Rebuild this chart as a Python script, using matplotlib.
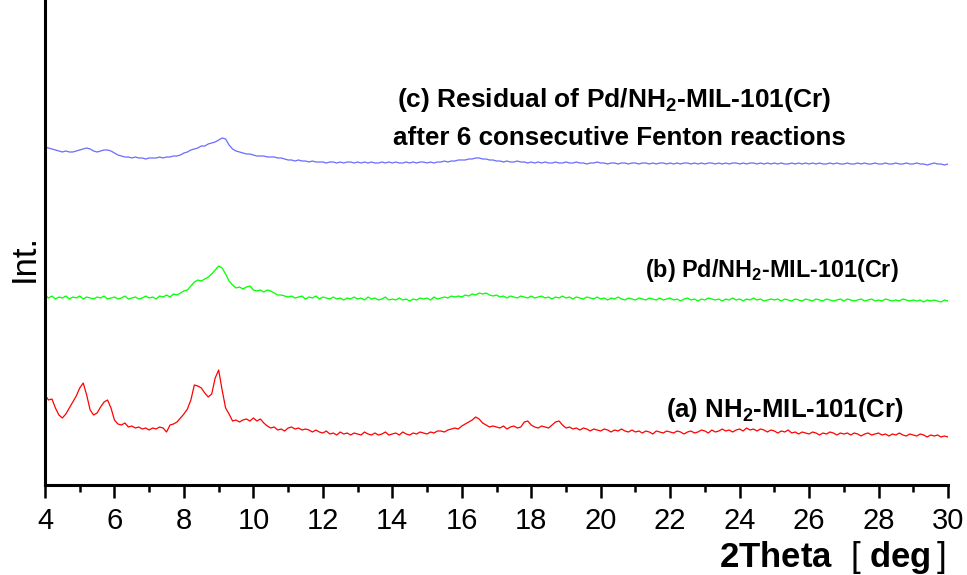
import numpy as np
import matplotlib
matplotlib.use("Agg")
import matplotlib.pyplot as plt
from matplotlib.ticker import MultipleLocator

plt.rcParams['font.family'] = ['Liberation Sans', 'Noto Sans CJK SC', 'DejaVu Sans']
plt.rcParams['mathtext.fontset'] = 'custom'
plt.rcParams['mathtext.rm'] = 'Liberation Sans'
plt.rcParams['mathtext.bf'] = 'Liberation Sans:bold'

# 2Theta grid (deg), step 0.1 from 4.0 to 30.0
two_theta = np.round(np.arange(40, 301) / 10.0, 1)

# (a) NH2-MIL-101(Cr)  (arbitrary intensity, offset trace)
int_a = [
    90, 85, 86, 77, 70, 67, 71, 77, 83, 89,
    97, 102, 90, 75, 70, 72, 78, 83, 85, 77,
    65, 61, 60, 62, 58, 59, 57, 58, 56, 57,
    55, 57, 56, 58, 57, 53, 60, 61, 63, 67,
    71, 76, 85, 100, 99, 97, 92, 88, 91, 107,
    115, 95, 77, 71, 64, 65, 63, 65, 66, 64,
    67, 64, 66, 62, 59, 57, 58, 55, 56, 54,
    57, 58, 56, 57, 55, 56, 55, 53, 55, 53,
    52, 54, 51, 52, 50, 53, 51, 52, 50, 52,
    51, 50, 53, 51, 50, 52, 50, 51, 53, 50,
    51, 52, 50, 53, 51, 50, 52, 51, 53, 52,
    51, 53, 52, 54, 54, 53, 55, 56, 57, 56,
    59, 61, 63, 65, 68, 66, 62, 60, 58, 59,
    58, 57, 59, 56, 58, 59, 57, 58, 63, 64,
    60, 58, 57, 59, 58, 57, 60, 63, 64, 60,
    57, 58, 56, 57, 55, 57, 56, 54, 56, 55,
    54, 56, 55, 53, 55, 54, 56, 54, 53, 55,
    53, 54, 52, 54, 53, 51, 54, 53, 52, 54,
    53, 52, 54, 53, 51, 53, 54, 52, 53, 55,
    54, 52, 55, 53, 54, 56, 54, 55, 53, 55,
    56, 54, 57, 55, 56, 54, 56, 55, 53, 55,
    54, 52, 54, 53, 55, 52, 53, 51, 53, 52,
    51, 53, 52, 50, 52, 51, 53, 52, 50, 52,
    51, 52, 50, 52, 51, 49, 51, 52, 50, 51,
    52, 50, 51, 49, 51, 50, 52, 50, 49, 51,
    50, 49, 51, 50, 48, 50, 49, 50, 48, 49,
    48,
]

# (b) Pd/NH2-MIL-101(Cr)
int_b = [
    190, 187, 189, 186, 188, 187, 189, 186, 188, 187,
    189, 186, 188, 187, 186, 188, 187, 189, 186, 187,
    188, 186, 187, 189, 186, 187, 188, 186, 187, 189,
    187, 188, 186, 189, 188, 190, 188, 191, 190, 192,
    194, 195, 199, 203, 205, 204, 206, 208, 211, 215,
    219, 217, 211, 204, 200, 197, 198, 196, 198, 199,
    195, 194, 195, 193, 195, 194, 192, 190, 190, 189,
    188, 189, 187, 188, 189, 186, 188, 187, 189, 186,
    188, 187, 186, 188, 186, 187, 185, 187, 186, 188,
    186, 187, 185, 188, 186, 187, 185, 186, 188, 185,
    186, 185, 187, 185, 186, 184, 186, 185, 187, 186,
    187, 185, 188, 186, 187, 188, 187, 189, 188, 189,
    188, 190, 189, 191, 190, 192, 191, 192, 190, 189,
    190, 188, 189, 187, 189, 188, 187, 189, 188, 187,
    189, 187, 188, 189, 187, 188, 186, 188, 187, 189,
    187, 188, 186, 188, 187, 186, 188, 187, 186, 188,
    186, 187, 185, 187, 186, 188, 186, 185, 187, 186,
    185, 187, 186, 185, 187, 186, 185, 187, 185, 186,
    187, 185, 186, 184, 186, 187, 185, 186, 184, 186,
    185, 187, 186, 185, 186, 184, 186, 185, 187, 185,
    186, 184, 186, 185, 187, 185, 186, 184, 185, 186,
    185, 186, 184, 186, 185, 184, 186, 185, 184, 186,
    185, 184, 186, 185, 184, 186, 185, 184, 185, 186,
    184, 186, 185, 184, 185, 186, 184, 185, 186, 184,
    185, 184, 186, 185, 184, 185, 184, 186, 185, 184,
    185, 184, 185, 183, 185, 184, 185, 184, 183, 185,
    184,
]

# (c) Residual after 6 consecutive Fenton reactions
int_c = [
    338, 337, 336, 335, 334, 333, 334, 333, 333, 334,
    335, 336, 337, 336, 334, 333, 334, 335, 335, 334,
    332, 330, 329, 328, 328, 327, 328, 327, 327, 326,
    327, 327, 327, 328, 327, 328, 328, 329, 329, 330,
    332, 333, 335, 336, 337, 339, 339, 341, 342, 343,
    345, 347, 346, 340, 336, 334, 333, 332, 331, 331,
    330, 329, 329, 329, 328, 328, 328, 327, 327, 326,
    325, 325, 324, 325, 324, 324, 323, 324, 323, 323,
    323, 322, 323, 323, 322, 323, 322, 323, 323, 322,
    323, 322, 323, 322, 323, 322, 322, 323, 322, 323,
    322, 323, 322, 322, 323, 322, 323, 322, 323, 323,
    322, 323, 322, 323, 323, 324, 323, 324, 324, 325,
    325, 325, 326, 326, 327, 327, 326, 326, 325, 325,
    324, 324, 323, 324, 323, 323, 324, 323, 323, 322,
    323, 322, 323, 322, 323, 322, 322, 323, 322, 322,
    323, 322, 322, 323, 322, 322, 321, 322, 322, 323,
    322, 322, 321, 322, 322, 321, 322, 322, 321, 322,
    322, 321, 322, 322, 321, 322, 321, 322, 322, 321,
    322, 321, 322, 321, 322, 322, 321, 322, 321, 322,
    321, 322, 322, 321, 322, 321, 322, 321, 322, 322,
    321, 322, 321, 322, 322, 321, 322, 321, 322, 321,
    322, 321, 322, 321, 321, 322, 321, 322, 321, 322,
    321, 322, 321, 322, 321, 321, 322, 321, 322, 321,
    321, 322, 321, 321, 322, 321, 322, 321, 321, 322,
    321, 321, 322, 321, 321, 322, 321, 321, 322, 321,
    321, 322, 321, 321, 320, 321, 322, 321, 321, 320,
    321,
]

label_a = r"(a) NH$_\mathbf{2}$-MIL-101(Cr)"
label_b = r"(b) Pd/NH$_\mathbf{2}$-MIL-101(Cr)"
label_c1 = r"(c) Residual of Pd/NH$_\mathbf{2}$-MIL-101(Cr)"
label_c2 = "after 6 consecutive Fenton reactions"
x_label = r"2Theta $\;[\;$deg$\,]$"
x_ticks = [4, 6, 8, 10, 12, 14, 16, 18, 20, 22, 24, 26, 28, 30]

W, H = 967, 575
fig = plt.figure(figsize=(W / 100, H / 100), dpi=100)
ax = fig.add_axes([45 / W, 1 - 485 / H, (948 - 45) / W, 485 / H])

ax.plot(two_theta, int_a, color='#ff0000', lw=0.9)
ax.plot(two_theta, int_b, color='#00ff00', lw=0.9)
ax.plot(two_theta, int_c, color='#6b6bff', lw=0.9)

ax.set_xlim(4, 30)
ax.set_ylim(0, 485)
ax.set_xticks(x_ticks)
ax.xaxis.set_minor_locator(MultipleLocator(1))
ax.set_yticks([])
for s in ['top', 'right']:
    ax.spines[s].set_visible(False)
for s in ['left', 'bottom']:
    ax.spines[s].set_linewidth(2.2)
ax.tick_params(axis='x', which='major', length=9, width=1.8, labelsize=21, pad=7, direction='out')
ax.tick_params(axis='x', which='minor', length=5, width=1.8, direction='out')
ax.patch.set_alpha(0)

fig.text(832 / W, 1 - 557 / H, x_label, fontsize=25, fontweight='bold',
         ha='center', va='center')
fig.text(24 / W, 1 - 258 / H, "Int.", fontsize=25, rotation=90, ha='center', va='center')

fig.text(614 / W, 1 - 100 / H, label_c1, fontsize=19, fontweight='bold', ha='center', va='center')
fig.text(619 / W, 1 - 138 / H, label_c2, fontsize=18.7, fontweight='bold', ha='center', va='center')
fig.text(772 / W, 1 - 270 / H, label_b, fontsize=16.8, fontweight='bold', ha='center', va='center')
fig.text(785 / W, 1 - 410 / H, label_a, fontsize=18.5, fontweight='bold', ha='center', va='center')

fig.savefig("out.png", dpi=100)
